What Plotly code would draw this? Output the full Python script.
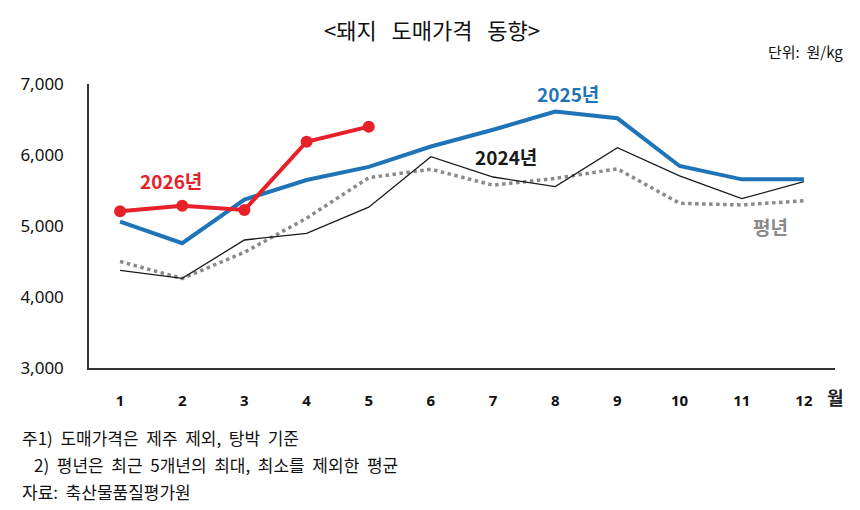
import plotly.graph_objects as go

months = [1, 2, 3, 4, 5, 6, 7, 8, 9, 10, 11, 12]
month_labels = ["1", "2", "3", "4", "5", "6", "7", "8", "9", "10", "11", "12"]
y_ticks = [3000, 4000, 5000, 6000, 7000]
y_tick_labels = ["3,000", "4,000", "5,000", "6,000", "7,000"]

avg_years = [4500, 4260, 4630, 5110, 5680, 5800, 5575, 5670, 5805, 5320, 5296, 5357]
y2024 = [4375, 4263, 4803, 4897, 5265, 5976, 5690, 5554, 6103, 5705, 5385, 5624]
y2025 = [5061, 4758, 5372, 5648, 5833, 6120, 6355, 6612, 6517, 5845, 5657, 5657]
y2026 = [5208, 5284, 5225, 6187, 6399]

RED = "#e8202a"
BLUE = "#1f74b8"
GRAY = "#8a8a8a"
BLACK = "#1a1a1a"
FONT = "Noto Sans CJK KR"
NUMFONT = "Noto Sans, Noto Sans CJK KR"

fig = go.Figure()
fig.add_trace(go.Scatter(x=months, y=avg_years, mode="lines",
                         line=dict(color=GRAY, width=3.5, dash="dot"), showlegend=False))
fig.add_trace(go.Scatter(x=months, y=y2024, mode="lines",
                         line=dict(color=BLACK, width=1.3), showlegend=False))
fig.add_trace(go.Scatter(x=months, y=y2025, mode="lines",
                         line=dict(color=BLUE, width=4), showlegend=False))
fig.add_trace(go.Scatter(x=months[:len(y2026)], y=y2026, mode="lines+markers",
                         line=dict(color=RED, width=4),
                         marker=dict(color=RED, size=12), showlegend=False))

annots = [
    dict(x=1.82, y=5634, text="<b>2026년</b>", font=dict(color=RED, size=19)),
    dict(x=8.21, y=6873, text="<b>2025년</b>", font=dict(color=BLUE, size=19)),
    dict(x=7.21, y=5972, text="<b>2024년</b>", font=dict(color=BLACK, size=19)),
    dict(x=11.46, y=5000, text="<b>평년</b>", font=dict(color=GRAY, size=19)),
]
for a in annots:
    fig.add_annotation(xref="x", yref="y", showarrow=False, **a)

fig.add_annotation(xref="paper", yref="paper", x=1.0, y=0, yshift=-29, xanchor="center",
                   yanchor="middle", text="<b>월</b>", showarrow=False,
                   font=dict(size=18, color="#222"))
TSP = "&nbsp;" * 3
fig.add_annotation(xref="paper", yref="paper", x=0.5, xshift=-30, y=1.0, yshift=55,
                   xanchor="center", yanchor="middle", showarrow=False,
                   text="&lt;돼지" + TSP + "도매가격" + TSP + "동향&gt;",
                   font=dict(size=22, color="#111"))
fig.add_annotation(xref="paper", yref="paper", x=1.0, xshift=10, y=1.0, yshift=33,
                   xanchor="right", yanchor="middle", showarrow=False,
                   text="단위:&nbsp;&nbsp;원/kg", font=dict(size=15, color="#111"))

SP = "&nbsp;" * 2
notes = ["주1) 도매가격은 제주 제외, 탕박 기준",
         "2) 평년은 최근 5개년의 최대, 최소를 제외한 평균",
         "자료: 축산물품질평가원"]
note_x = [-69, -57, -69]
for i, t in enumerate(notes):
    fig.add_annotation(xref="paper", yref="paper", x=0, xshift=note_x[i], y=0,
                       yshift=-69 - 27 * i,
                       xanchor="left", yanchor="middle", showarrow=False,
                       text=t.replace(" ", SP), font=dict(size=17, color="#111"))

fig.update_layout(
    width=852, height=502,
    margin=dict(l=73, r=25, t=76, b=142),
    paper_bgcolor="white", plot_bgcolor="white",
    font=dict(family=FONT, color="#111"),
    xaxis=dict(range=[0.5, 12.5], tickvals=months, ticktext=month_labels,
               showgrid=False, zeroline=False, showline=True, linecolor="#333",
               linewidth=1.5, ticks="", ticklabelstandoff=18,
               tickfont=dict(family=NUMFONT, size=15, color="#111", weight="bold")),
    yaxis=dict(range=[3000, 7000], tickvals=y_ticks, ticktext=y_tick_labels,
               showgrid=False, zeroline=False, showline=True, linecolor="#333",
               linewidth=1.5, ticks="", ticklabelstandoff=20,
               tickfont=dict(family=NUMFONT, size=17, color="#111")),
)

fig.write_html("out.html")
